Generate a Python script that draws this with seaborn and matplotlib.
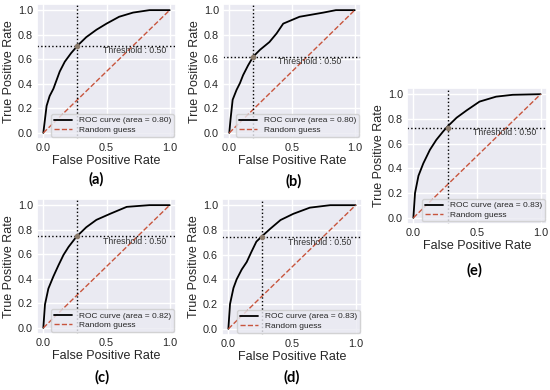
import numpy as np
import matplotlib
matplotlib.use("Agg")
import matplotlib.pyplot as plt
import seaborn as sns

sns.set_theme(style="darkgrid")
plt.rcParams['font.family'] = ['Liberation Sans', 'DejaVu Sans']

panel_labels = ["(a)", "(b)", "(c)", "(d)", "(e)"]
auc_values = [0.80, 0.80, 0.82, 0.83, 0.83]

fpr_a = [0, 0.013, 0.026, 0.05, 0.08, 0.105, 0.13, 0.17, 0.22, 0.276, 0.34, 0.42, 0.5, 0.6, 0.71, 0.84, 1.0]
tpr_a = [0, 0.11, 0.22, 0.30, 0.36, 0.43, 0.50, 0.58, 0.65, 0.716, 0.78, 0.84, 0.89, 0.946, 0.98, 1.0, 1.0]

fpr_b = [0, 0.01, 0.027, 0.058, 0.085, 0.11, 0.15, 0.19, 0.244, 0.32, 0.377, 0.43, 0.56, 0.75, 0.85, 1.0]
tpr_b = [0, 0.11, 0.27, 0.35, 0.405, 0.47, 0.55, 0.62, 0.676, 0.74, 0.81, 0.89, 0.946, 0.98, 1.0, 1.0]

fpr_c = [0, 0.013, 0.04, 0.08, 0.12, 0.16, 0.2, 0.26, 0.34, 0.42, 0.53, 0.66, 0.84, 1.0]
tpr_c = [0, 0.19, 0.32, 0.42, 0.51, 0.595, 0.66, 0.74, 0.82, 0.88, 0.93, 0.986, 1.0, 1.0]

fpr_d = [0, 0.013, 0.04, 0.065, 0.105, 0.144, 0.18, 0.22, 0.26, 0.33, 0.41, 0.51, 0.64, 0.8, 1.0]
tpr_d = [0, 0.20, 0.33, 0.40, 0.48, 0.54, 0.62, 0.705, 0.745, 0.81, 0.88, 0.93, 0.98, 1.0, 1.0]

fpr_e = [0, 0.013, 0.04, 0.078, 0.13, 0.18, 0.235, 0.27, 0.34, 0.42, 0.52, 0.65, 0.78, 1.0]
tpr_e = [0, 0.20, 0.34, 0.44, 0.55, 0.63, 0.70, 0.74, 0.81, 0.87, 0.94, 0.98, 0.995, 1.0]

thr_fpr = [0.27, 0.19, 0.27, 0.265, 0.27]
thr_tpr = [0.71, 0.62, 0.745, 0.74, 0.73]

curves = [(fpr_a, tpr_a), (fpr_b, tpr_b), (fpr_c, tpr_c), (fpr_d, tpr_d), (fpr_e, tpr_e)]

W, H = 550, 390
fig = plt.figure(figsize=(5.5, 3.9), dpi=100)

# pixel boxes: left, top, right, bottom
boxes = [(37, 4, 176, 139), (223, 4, 361, 139), (37, 199, 176, 334),
         (222, 199, 362, 335), (407, 88, 547, 224)]
label_pos = [(96, 179), (294, 181), (102, 377), (292, 377), (474, 270)]

for i, ((fpr, tpr), (l, t, r, b)) in enumerate(zip(curves, boxes)):
    ax = fig.add_axes([l / W, 1 - b / H, (r - l) / W, (b - t) / H])
    sns.lineplot(x=fpr, y=tpr, ax=ax, color='black', lw=1.3, sort=False,
                 estimator=None, label=f"ROC curve (area = {auc_values[i]:.2f})")
    sns.lineplot(x=[0, 1], y=[0, 1], ax=ax, color='#c8553d', lw=1.0,
                 linestyle='--', label="Random guess")
    ax.axvline(thr_fpr[i], color='black', ls=':', lw=1.0)
    ax.axhline(thr_tpr[i], color='black', ls=':', lw=1.0)
    ax.plot([thr_fpr[i]], [thr_tpr[i]], 'o', color='#8a7a6a', ms=3)
    ax.text(thr_fpr[i] + 0.2, thr_tpr[i] - 0.005, "Threshold : 0.50", fontsize=6.3,
            color='#333333', va='top', ha='left')
    ax.set_xlim(-0.05, 1.05)
    ax.set_ylim(-0.05, 1.05)
    ax.set_xticks([0.0, 0.5, 1.0])
    ax.set_yticks([0.0, 0.2, 0.4, 0.6, 0.8, 1.0])
    ax.tick_params(labelsize=7.8, pad=3, length=0)
    ax.set_xlabel("False Positive Rate", fontsize=9, labelpad=1)
    ax.set_ylabel("True Positive Rate", fontsize=9, labelpad=2)
    ax.legend(loc='lower right', fontsize=6, handlelength=2.2, borderpad=0.3,
              labelspacing=0.2, borderaxespad=0.3)
    fig.text(label_pos[i][0] / W, 1 - label_pos[i][1] / H, panel_labels[i],
             ha='center', va='center', fontsize=10.5, fontweight='bold',
             family=['Lato', 'DejaVu Sans'], color='black')

fig.savefig("out.png", dpi=100)
